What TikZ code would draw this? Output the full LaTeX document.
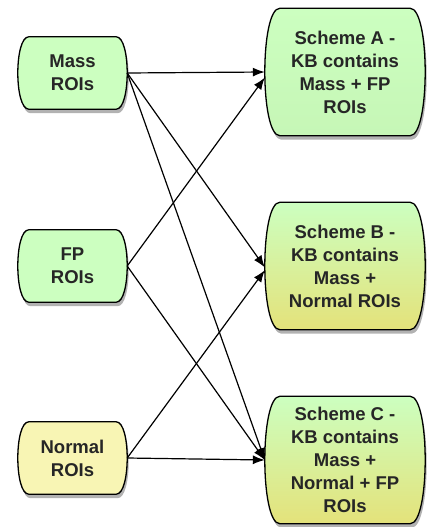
\documentclass[tikz,border=0pt]{standalone}
\usepackage{fontspec}
\setmainfont{Liberation Sans}
\usetikzlibrary{arrows.meta,shadows,backgrounds,positioning}
\definecolor{roigreen}{HTML}{CCFFC0}
\definecolor{roiyellow}{HTML}{F8F5B4}
\definecolor{schemegreen}{HTML}{C6F6B6}
\definecolor{schemeyellow}{HTML}{E4E27A}
\tikzset{roi/.style={
            rectangle,
            inner sep=0pt,
            text=black!85,
            font=\bfseries\fontsize{18.5}{23}\selectfont,
            align=center,
            minimum width=109pt,
            minimum height=72pt
        },
        scheme/.style={
            roi,
            minimum width=160pt,
            minimum height=127pt
        },
        outline/.style={
            draw,
            line width=1.3pt,
            drop shadow={shadow xshift=1.5pt,shadow yshift=-4pt,opacity=0.3,fill=black}
        },
        link/.style={
            ->,
            >={Latex[length=12pt,width=9pt]},
            line width=1.2pt
        }
    }
% box with bulging sides: node name, inset of the corners, path options
\newcommand{\bulgebox}[3]{%
    \path[outline,#3] ([xshift=#2]#1.north west) -- ([xshift=-#2]#1.north east)
        .. controls +(1.333*#2,0) and +(1.333*#2,0) .. ([xshift=-#2]#1.south east)
        -- ([xshift=#2]#1.south west)
        .. controls +(-1.333*#2,0) and +(-1.333*#2,0) .. cycle;}
\begin{document}
\begin{tikzpicture}[x=1pt,y=1pt]
        \useasboundingbox (0,0) rectangle (427,-527);

        \node[roi] at (72.5,-73) (mass) {Mass\\ROIs};
        \node[roi] at (72.5,-266) (fp) {FP\\ROIs};
        \node[roi] at (72.5,-458) (normal) {Normal\\ROIs};

        \node[scheme] at (345,-72) (schemeA) {Scheme A -\\KB contains\\Mass + FP\\ROIs};
        \node[scheme] at (345,-266) (schemeB) {Scheme B -\\KB contains\\Mass +\\Normal ROIs};
        \node[scheme] at (345,-460) (schemeC) {Scheme C -\\KB contains\\Mass +\\Normal + FP\\ROIs};

        \begin{scope}[on background layer]
            \bulgebox{mass}{11pt}{fill=roigreen}
            \bulgebox{fp}{11pt}{fill=roigreen}
            \bulgebox{normal}{11pt}{fill=roiyellow}
            \bulgebox{schemeA}{15pt}{top color=roigreen,bottom color=schemegreen}
            \bulgebox{schemeB}{15pt}{top color=roigreen,bottom color=schemeyellow}
            \bulgebox{schemeC}{15pt}{top color=roigreen,bottom color=schemeyellow}
        \end{scope}

        \draw[link] (mass.east) -- (schemeA.west);
        \draw[link] (mass.east) -- (schemeB.181);
        \draw[link] (mass.east) -- (schemeC.west);
        \draw[link] (fp.east) -- (schemeA.184);
        \draw[link] (fp.east) -- (schemeC.west);
        \draw[link] (normal.east) -- (schemeB.183);
        \draw[link] (normal.east) -- (schemeC.west);
    \end{tikzpicture}
\end{document}
